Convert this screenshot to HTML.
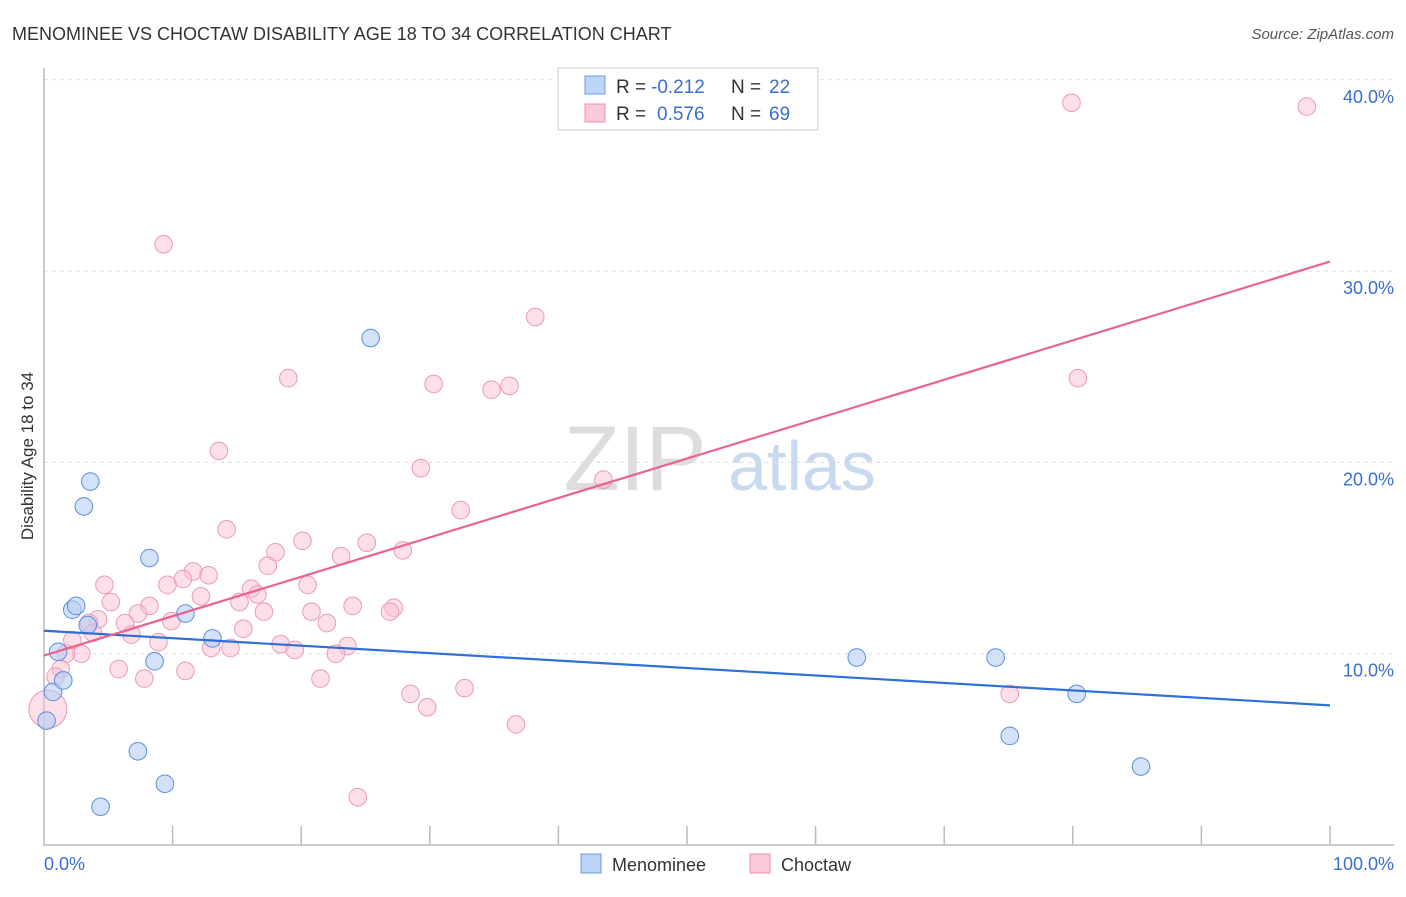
<!DOCTYPE html>
<html><head><meta charset="utf-8"><style>
body{margin:0;background:#fff;font-family:"Liberation Sans",sans-serif;}
svg text{font-family:"Liberation Sans",sans-serif;}
</style></head><body>
<svg id="chart" width="1406" height="892">
<text x="12" y="40" font-size="18" fill="#333">MENOMINEE VS CHOCTAW DISABILITY AGE 18 TO 34 CORRELATION CHART</text>
<text x="1394" y="39" font-size="15" fill="#555" font-style="italic" text-anchor="end">Source: ZipAtlas.com</text>
<g>
<text x="635" y="490" font-size="92" fill="#ddd" font-family="Liberation Serif" text-anchor="middle">ZIP</text>
<text x="802" y="490" font-size="70" fill="#c8d9f0" text-anchor="middle">atlas</text>
</g>
<g id="grid"></g>
<g id="axes"></g>
<g id="marks"></g>
<text transform="translate(33,456) rotate(-90)" font-size="17" fill="#333" text-anchor="middle">Disability Age 18 to 34</text>
<text x="44" y="870" font-size="18" fill="#3a6fd0">0.0%</text>
<text x="1394" y="870" font-size="18" fill="#3a6fd0" text-anchor="end">100.0%</text>
<g>
<rect x="558" y="68" width="260" height="62" fill="#fff" stroke="#ccc"/>
<rect x="585" y="76" width="20" height="18" fill="#bcd4f5" stroke="#6d9ce0"/>
<rect x="585" y="104" width="20" height="18" fill="#fbc9d8" stroke="#e891ad"/>
<text x="616" y="93" font-size="19" fill="#333">R =</text>
<text x="651" y="93" font-size="19" fill="#3a6fd0">-0.212</text>
<text x="731" y="93" font-size="19" fill="#333">N =</text>
<text x="769" y="93" font-size="19" fill="#3a6fd0">22</text>
<text x="616" y="120" font-size="19" fill="#333">R =</text>
<text x="657" y="120" font-size="19" fill="#3a6fd0">0.576</text>
<text x="731" y="120" font-size="19" fill="#333">N =</text>
<text x="769" y="120" font-size="19" fill="#3a6fd0">69</text>
</g>
<g>
<rect x="581" y="854" width="20" height="19" fill="#bcd4f5" stroke="#6d9ce0"/>
<text x="612" y="871" font-size="18" fill="#333">Menominee</text>
<rect x="750" y="854" width="20" height="19" fill="#fbc9d8" stroke="#e891ad"/>
<text x="781" y="871" font-size="18" fill="#333">Choctaw</text>
</g>
</svg>
<script>
const yTicks=[10,20,30,40];
const menX=[0.2,0.7,1.1,1.5,2.2,2.5,3.1,3.4,3.6,4.4,7.3,8.2,8.6,9.4,11.0,13.1,25.4,63.2,74.0,75.1,80.3,85.3];
const menY=[6.5,8.0,10.1,8.6,12.3,12.5,17.7,11.5,19.0,2.0,4.9,15.0,9.6,3.2,12.1,10.8,26.5,9.8,9.8,5.7,7.9,4.1];
const choX=[9.3,38.2,79.9,98.2,19.0,30.3,34.8,36.2,80.4,13.6,29.3,43.5,32.4,14.2,20.1,18.0,25.1,27.9,23.1,17.4,11.6,10.8,12.8,9.6,4.7,16.1,20.5,16.6,12.2,15.2,5.2,8.2,24.0,17.1,20.8,27.2,26.9,7.3,4.2,6.3,3.5,22.0,9.9,15.5,6.8,3.8,2.2,8.9,18.4,23.6,13.0,14.5,19.5,22.7,2.9,1.7,1.3,5.8,11.0,0.9,7.8,21.5,28.5,32.7,75.1,29.8,36.7,24.4,0.3];
const choY=[31.4,27.6,38.8,38.6,24.4,24.1,23.8,24.0,24.4,20.6,19.7,19.1,17.5,16.5,15.9,15.3,15.8,15.4,15.1,14.6,14.3,13.9,14.1,13.6,13.6,13.4,13.6,13.1,13.0,12.7,12.7,12.5,12.5,12.2,12.2,12.4,12.2,12.1,11.8,11.6,11.6,11.6,11.7,11.3,11.0,11.1,10.7,10.6,10.5,10.4,10.3,10.3,10.2,10.0,10.0,10.0,9.2,9.2,9.1,8.8,8.7,8.7,7.9,8.2,7.9,7.2,6.3,2.5,7.1];
const menLine=[11.2,7.3];
const choLine=[9.9,30.5];
const NS='http://www.w3.org/2000/svg';
const X0=44,X1=1330,YB=845,PX=19.13;
const sx=v=>X0+(X1-X0)*v/100, sy=v=>YB-v*PX;
function mk(t,a,p){const e=document.createElementNS(NS,t);for(const k in a)e.setAttribute(k,a[k]);p.appendChild(e);return e;}
const grid=document.getElementById('grid'),axes=document.getElementById('axes'),marks=document.getElementById('marks');
yTicks.forEach(t=>{
 const l=mk('line',{x1:X0,x2:1394,y1:sy(t),y2:sy(t),stroke:'#ddd','stroke-dasharray':'4,4'},grid);
 
 
 const tx=mk('text',{x:1394,y:sy(t)+23,'font-size':18,fill:'#3a6fd0','text-anchor':'end'},grid);
 tx.textContent=t.toFixed(1)+'%';
 
 
});
const ax=mk('path',{d:`M${X0} 68V${YB}H1394`,stroke:'#bbb',fill:'none','stroke-width':1.5},axes);


for(let i=1;i<=10;i++){const t=mk('line',{x1:sx(i*10),x2:sx(i*10),y1:826,y2:YB,stroke:'#bbb','stroke-width':1.5},axes);
 
 }
choX.forEach((x,i)=>{const r=(i===choX.length-1)?19:8.8;
 const c=mk('circle',{cx:sx(x),cy:sy(choY[i]),r:r,fill:'#f9c0d2','fill-opacity':0.5,stroke:'#ec9ab5','stroke-width':1},marks);
 
 });
menX.forEach((x,i)=>{const c=mk('circle',{cx:sx(x),cy:sy(menY[i]),r:8.8,fill:'#b5cff3','fill-opacity':0.6,stroke:'#5b8fdc','stroke-width':1},marks);
 
 });
const l1=mk('line',{x1:sx(0),y1:sy(menLine[0]),x2:sx(100),y2:sy(menLine[1]),stroke:'#2f6fd6','stroke-width':2.2},marks);


const l2=mk('line',{x1:sx(0),y1:sy(choLine[0]),x2:sx(100),y2:sy(choLine[1]),stroke:'#e8648e','stroke-width':2.2},marks);


</script>
</body></html>
